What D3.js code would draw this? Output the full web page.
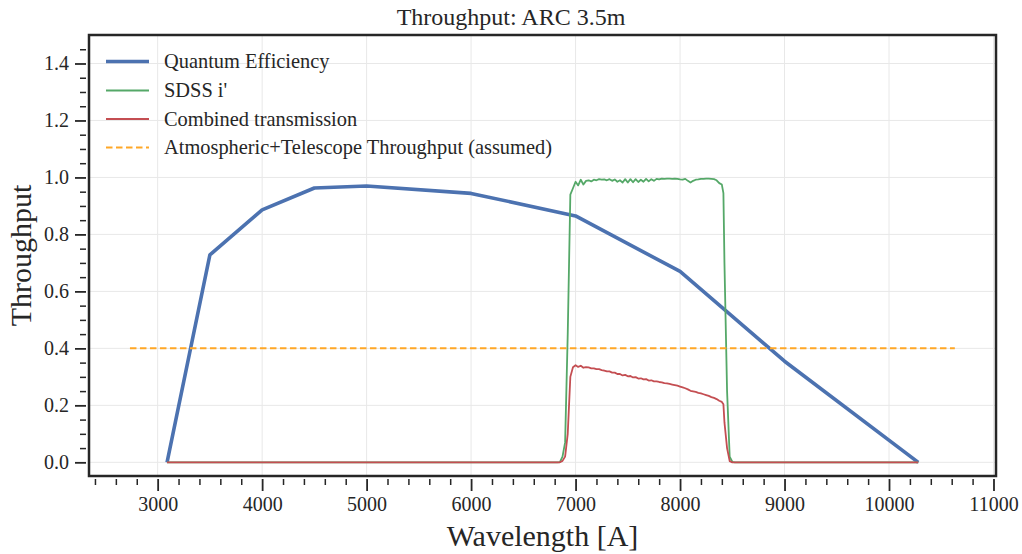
<!DOCTYPE html>
<html>
<head>
<meta charset="utf-8">
<script src="https://cdn.jsdelivr.net/npm/d3@7"></script>
<style>
  body { margin: 0; background: #fff; }
  svg { display: block; }
  text { font-family: "Liberation Serif", "Times New Roman", serif; fill: #262626; }
</style>
</head>
<body>
<div id="chart"></div>
<script>
const FRAME_WIDTH = 1022;
const FRAME_HEIGHT = 554;
const MARGINS = {left: 89, right: 26, top: 35, bottom: 78};
const VIS_WIDTH = FRAME_WIDTH - MARGINS.left - MARGINS.right;
const VIS_HEIGHT = FRAME_HEIGHT - MARGINS.top - MARGINS.bottom;

// quantum efficiency curve
const QE_WAVE = [3090, 3500, 4000, 4500, 5000, 6000, 7000, 8000, 9000, 10280];
const QE_VALUES = [0.0, 0.728, 0.886, 0.963, 0.970, 0.944, 0.865, 0.670, 0.355, 0.0];

// SDSS i' filter + combined transmission share one wavelength grid
const FILTER_WAVE = [3090, 6800, 6825, 6850, 6875, 6900, 6925, 6950, 6975,
  7000, 7025, 7050, 7075, 7100, 7125, 7150, 7175, 7200, 7225, 7250, 7275,
  7300, 7325, 7350, 7375, 7400, 7425, 7450, 7475, 7500, 7525, 7550, 7575,
  7600, 7625, 7650, 7675, 7700, 7725, 7750, 7775, 7800, 7825, 7850, 7875,
  7900, 7925, 7950, 7975, 8000, 8025, 8050, 8075, 8100, 8125, 8150, 8175,
  8200, 8225, 8250, 8275, 8300, 8325, 8350, 8375, 8400, 8415, 8425, 8450,
  8475, 8500, 8525, 8550, 10280];
const SDSS_I_VALUES = [0, 0, 0, 0.001, 0.02, 0.07, 0.45, 0.94, 0.962,
  0.985, 0.972, 0.992, 0.975, 0.988, 0.990, 0.986, 0.992, 0.990, 0.994, 0.992, 0.993,
  0.990, 0.994, 0.988, 0.993, 0.985, 0.990, 0.982, 0.994, 0.982, 0.994, 0.983, 0.994,
  0.984, 0.992, 0.985, 0.995, 0.986, 0.994, 0.988, 0.995, 0.993, 0.996, 0.995, 0.996,
  0.996, 0.995, 0.996, 0.995, 0.993, 0.992, 0.995, 0.988, 0.982, 0.988, 0.992, 0.993,
  0.995, 0.995, 0.996, 0.996, 0.995, 0.994, 0.990, 0.980, 0.975, 0.945, 0.70, 0.25,
  0.02, 0.002, 0, 0, 0];
const COMBINED_VALUES = [0, 0, 0, 0, 0.005, 0.02, 0.10, 0.30, 0.334,
  0.341, 0.335, 0.339, 0.332, 0.334, 0.333, 0.330, 0.330, 0.327, 0.327, 0.324, 0.322,
  0.319, 0.319, 0.315, 0.315, 0.310, 0.310, 0.305, 0.307, 0.302, 0.303, 0.298, 0.299,
  0.294, 0.295, 0.291, 0.292, 0.287, 0.288, 0.284, 0.284, 0.282, 0.281, 0.278, 0.277,
  0.275, 0.273, 0.271, 0.269, 0.266, 0.263, 0.260, 0.256, 0.251, 0.249, 0.247, 0.244,
  0.242, 0.239, 0.236, 0.233, 0.229, 0.226, 0.222, 0.216, 0.212, 0.204, 0.14, 0.05,
  0.004, 0, 0, 0, 0];

// assumed atmosphere + telescope
const ATMOS_WAVE = [2735, 10630];
const ATMOS_VALUES = [0.4, 0.4];

const X_DOMAIN = [2343, 11024];
const Y_DOMAIN = [-0.048, 1.5];
const X_TICKS = [3000, 4000, 5000, 6000, 7000, 8000, 9000, 10000, 11000];
const Y_TICKS = [0.0, 0.2, 0.4, 0.6, 0.8, 1.0, 1.2, 1.4];
const LEGEND_LABELS = ["Quantum Efficiency", "SDSS i'", "Combined transmission",
                       "Atmospheric+Telescope Throughput (assumed)"];
const COLORS = ["#4c72b0", "#55a868", "#c44e52", "#ffa726"];

const FRAME = d3.select("#chart")
                .append("svg")
                  .attr("width", FRAME_WIDTH)
                  .attr("height", FRAME_HEIGHT);

const X_SCALE = d3.scaleLinear().domain(X_DOMAIN).range([0, VIS_WIDTH]);
const Y_SCALE = d3.scaleLinear().domain(Y_DOMAIN).range([VIS_HEIGHT, 0]);

const PLOT = FRAME.append("g")
                  .attr("transform", "translate(" + MARGINS.left + "," + MARGINS.top + ")");

// grid
PLOT.append("g").selectAll("line")
    .data(X_TICKS).enter().append("line")
      .attr("x1", d => X_SCALE(d)).attr("x2", d => X_SCALE(d))
      .attr("y1", 0).attr("y2", VIS_HEIGHT)
      .attr("stroke", "#e8e8e8").attr("stroke-width", 1);
PLOT.append("g").selectAll("line")
    .data(Y_TICKS).enter().append("line")
      .attr("y1", d => Y_SCALE(d)).attr("y2", d => Y_SCALE(d))
      .attr("x1", 0).attr("x2", VIS_WIDTH)
      .attr("stroke", "#e8e8e8").attr("stroke-width", 1);

// minor ticks
const xMinor = d3.range(2400, 11001, 200).filter(v => v % 1000 !== 0);
const yMinor = d3.range(0, 31).map(i => i * 0.05)
                 .filter(v => v <= 1.46 && Math.abs(v * 5 - Math.round(v * 5)) > 1e-6);

const TICK_GAP = 3;

const xAxis = PLOT.append("g")
    .attr("transform", "translate(0," + (VIS_HEIGHT + TICK_GAP) + ")")
    .call(d3.axisBottom(X_SCALE).tickValues(X_TICKS).tickSize(12).tickSizeOuter(0)
            .tickPadding(6).tickFormat(d3.format("d")));
xAxis.select(".domain").remove();
xAxis.selectAll("text").attr("font-size", 20).attr("fill", "#262626");
xAxis.selectAll("line").attr("stroke", "#262626").attr("stroke-width", 1.8);

const xAxisMinor = PLOT.append("g")
    .attr("transform", "translate(0," + (VIS_HEIGHT + TICK_GAP) + ")")
    .call(d3.axisBottom(X_SCALE).tickValues(xMinor).tickSize(6).tickFormat(""));
xAxisMinor.select(".domain").remove();
xAxisMinor.selectAll("line").attr("stroke", "#262626").attr("stroke-width", 1.5);

const yAxis = PLOT.append("g")
    .attr("transform", "translate(" + (-TICK_GAP) + ",0)")
    .call(d3.axisLeft(Y_SCALE).tickValues(Y_TICKS).tickSize(11).tickSizeOuter(0)
            .tickPadding(6).tickFormat(d3.format(".1f")));
yAxis.select(".domain").remove();
yAxis.selectAll("text").attr("font-size", 20).attr("fill", "#262626");
yAxis.selectAll("line").attr("stroke", "#262626").attr("stroke-width", 1.8);

const yAxisMinor = PLOT.append("g")
    .attr("transform", "translate(" + (-TICK_GAP) + ",0)")
    .call(d3.axisLeft(Y_SCALE).tickValues(yMinor).tickSize(6).tickFormat(""));
yAxisMinor.select(".domain").remove();
yAxisMinor.selectAll("line").attr("stroke", "#262626").attr("stroke-width", 1.5);

// data lines
PLOT.append("clipPath").attr("id", "clip")
    .append("rect").attr("width", VIS_WIDTH).attr("height", VIS_HEIGHT);

const line = d3.line()
               .x(d => X_SCALE(d[0]))
               .y(d => Y_SCALE(d[1]));

const series = [
  {wave: QE_WAVE, vals: QE_VALUES, color: COLORS[0], width: 3.6, dash: null},
  {wave: FILTER_WAVE, vals: SDSS_I_VALUES, color: COLORS[1], width: 1.8, dash: null},
  {wave: FILTER_WAVE, vals: COMBINED_VALUES, color: COLORS[2], width: 1.8, dash: null},
  {wave: ATMOS_WAVE, vals: ATMOS_VALUES, color: COLORS[3], width: 2, dash: "6.5,3.5"}
];

const lines = PLOT.append("g").attr("clip-path", "url(#clip)");
series.forEach((s) => {
  lines.append("path")
       .datum(d3.zip(s.wave, s.vals))
       .attr("d", line)
       .attr("fill", "none")
       .attr("stroke", s.color)
       .attr("stroke-width", s.width)
       .attr("stroke-linejoin", "round")
       .attr("stroke-dasharray", s.dash);
});

// frame
PLOT.append("rect")
    .attr("width", VIS_WIDTH).attr("height", VIS_HEIGHT)
    .attr("fill", "none").attr("stroke", "#262626").attr("stroke-width", 2.5);

// legend
const LEGEND_Y = [61.5, 90.5, 119, 147.5];
const legend = FRAME.append("g");
series.forEach((s, i) => {
  legend.append("line")
        .attr("x1", 106).attr("x2", 149)
        .attr("y1", LEGEND_Y[i]).attr("y2", LEGEND_Y[i])
        .attr("stroke", s.color).attr("stroke-width", s.width)
        .attr("stroke-dasharray", s.dash);
  legend.append("text")
        .attr("x", 164).attr("y", LEGEND_Y[i]).attr("dy", "0.33em")
        .attr("font-size", 20.4)
        .text(LEGEND_LABELS[i]);
});

// labels
FRAME.append("text")
     .attr("x", FRAME_WIDTH / 2).attr("y", 25)
     .attr("text-anchor", "middle").attr("font-size", 24)
     .text("Throughput: ARC 3.5m");

FRAME.append("text")
     .attr("x", MARGINS.left + VIS_WIDTH / 2).attr("y", 546)
     .attr("text-anchor", "middle").attr("font-size", 30)
     .text("Wavelength [A]");

FRAME.append("text")
     .attr("transform", "translate(31," + (MARGINS.top + VIS_HEIGHT / 2) + ") rotate(-90)")
     .attr("text-anchor", "middle").attr("font-size", 30)
     .text("Throughput");
</script>
</body>
</html>
